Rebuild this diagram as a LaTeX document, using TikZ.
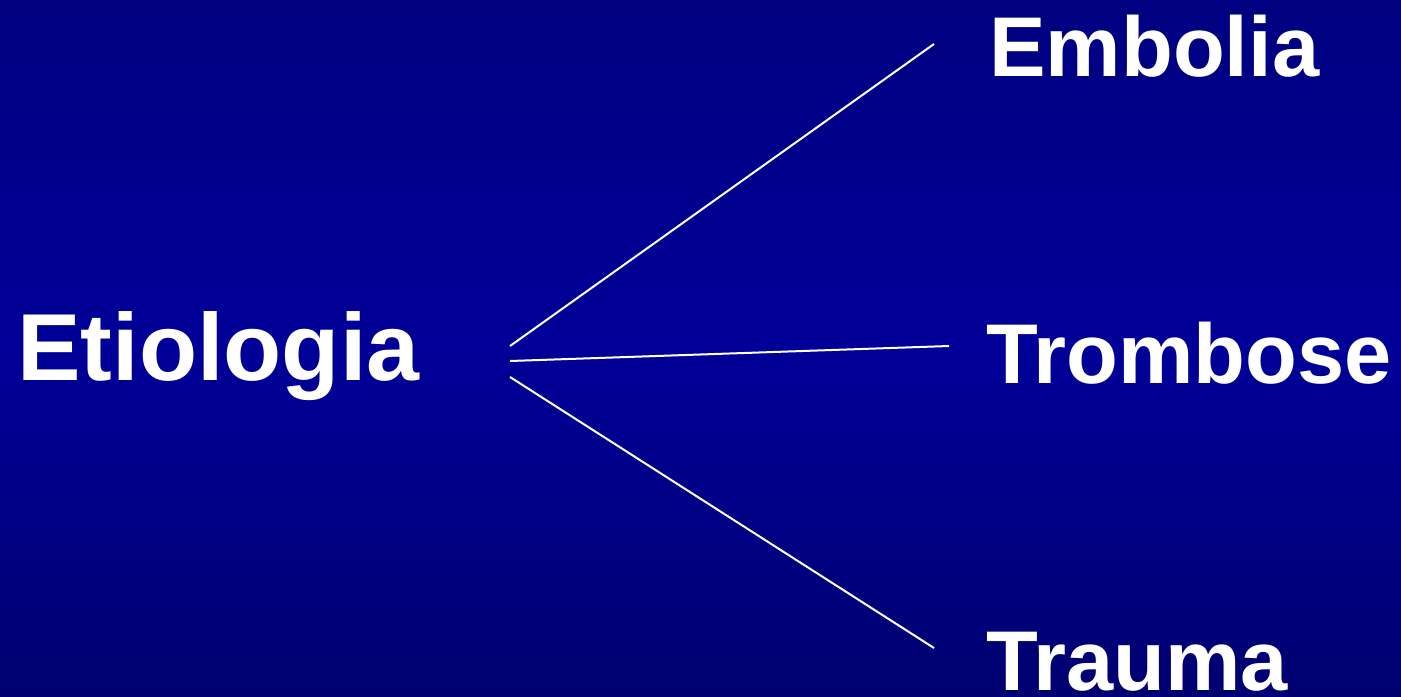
\documentclass[tikz,border=0pt]{standalone}
\usepackage{fontspec}
\setmainfont{Liberation Sans}
\begin{document}
\begin{tikzpicture}[x=0.5pt,y=-0.5pt,
  bigtxt/.style={inner sep=0pt,anchor=base west,text=white,font=\fontsize{47.6pt}{50pt}\selectfont\bfseries},
  txt/.style={inner sep=0pt,anchor=base west,text=white,font=\fontsize{42.4pt}{45pt}\selectfont\bfseries},
  link/.style={draw=white,line width=1pt}]
\shade[top color={rgb,255:red,0;green,0;blue,128},bottom color={rgb,255:red,0;green,0;blue,112},middle color={rgb,255:red,0;green,0;blue,152}] (0,0) rectangle (1401,696);
\useasboundingbox (0,0) rectangle (1401,696);
\node[bigtxt] (etio) at (17,380) {Etiologia};
\node[txt] (emb) at (989,76) {Embolia};
\node[txt] (tro) at (986,383) {Trombose};
\node[txt] (tra) at (986,690) {Trauma};
\coordinate (s1) at (510,346);
\coordinate (s2) at (510,361);
\coordinate (s3) at (510,377);
\coordinate (e1) at (934,44);
\coordinate (e2) at (949,346);
\coordinate (e3) at (934,648);
\draw[link] (s1) -- (e1);
\draw[link] (s2) -- (e2);
\draw[link] (s3) -- (e3);
\end{tikzpicture}
\end{document}
